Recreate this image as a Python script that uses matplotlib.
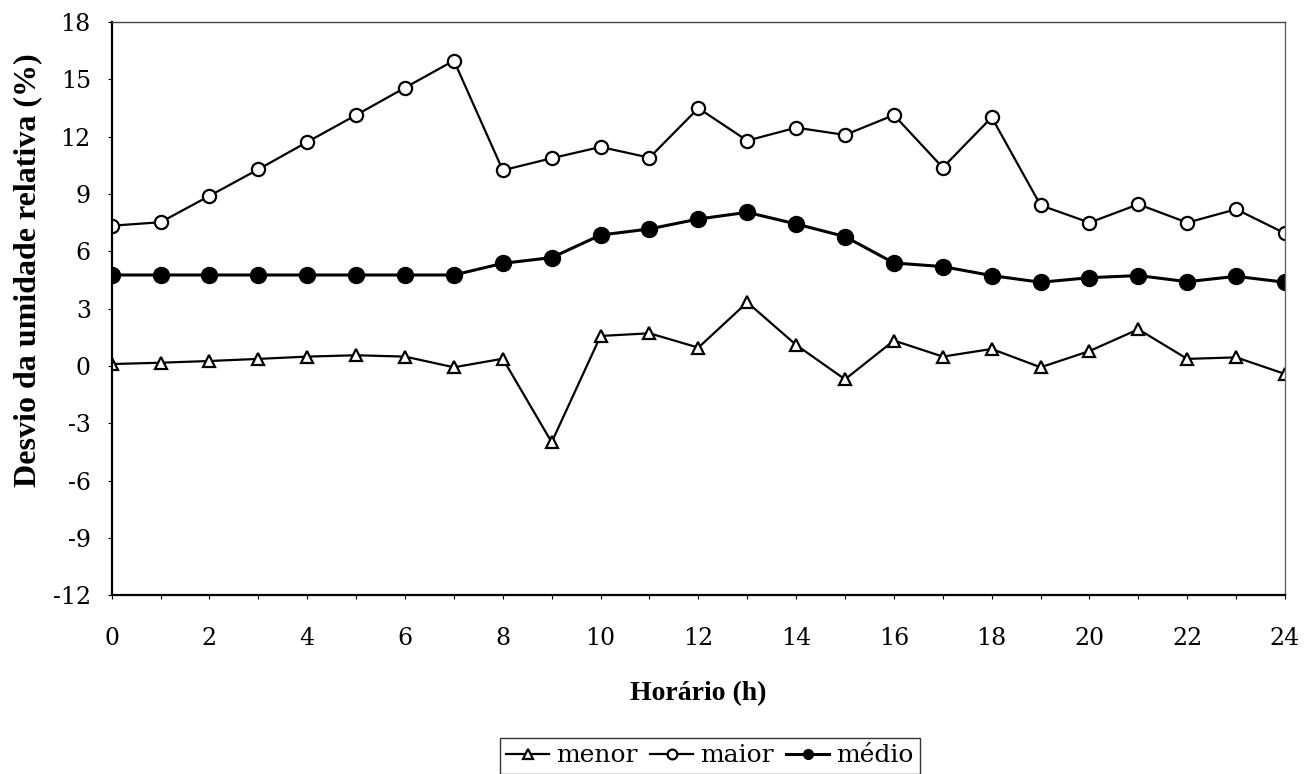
import matplotlib
matplotlib.use("Agg")
import matplotlib.pyplot as plt
from matplotlib.ticker import MultipleLocator

plt.rcParams["axes.unicode_minus"] = False

hours = list(range(25))
menor = [0.1, 0.17, 0.26, 0.37, 0.49, 0.56, 0.49, -0.07, 0.38, -3.99, 1.57, 1.71, 0.96,
         3.33, 1.1, -0.7, 1.33, 0.49, 0.89, -0.07, 0.78, 1.92, 0.37, 0.45, -0.42]
maior = [7.34, 7.52, 8.9, 10.29, 11.72, 13.13, 14.56, 15.98, 10.24, 10.87, 11.46, 10.9, 13.49,
         11.79, 12.47, 12.09, 13.13, 10.38, 13.01, 8.41, 7.5, 8.46, 7.5, 8.2, 6.94]
medio = [4.76, 4.76, 4.76, 4.76, 4.76, 4.76, 4.76, 4.76, 5.37, 5.67, 6.85, 7.17, 7.69,
         8.04, 7.43, 6.77, 5.39, 5.2, 4.73, 4.38, 4.62, 4.73, 4.41, 4.69, 4.38]

xticks = list(range(0, 25, 2))
yticks = list(range(-12, 19, 3))

fig = plt.figure(figsize=(13.09, 7.74), dpi=100)
ax = fig.add_axes([0.0853, 0.2309, 0.8964, 0.7407])

ax.plot(hours, menor, color="black", lw=1.6, marker="^", ms=8, mfc="white",
        mec="black", mew=1.6, label="menor", zorder=3)
ax.plot(hours, maior, color="black", lw=1.6, marker="o", ms=9.5, mfc="white",
        mec="black", mew=1.6, label="maior", zorder=3)
ax.plot(hours, medio, color="black", lw=2.2, marker="o", ms=11.5, mfc="black",
        mec="black", label="médio", zorder=4)

ax.set_xlim(0, 24)
ax.set_ylim(-12, 18)
ax.set_xticks(xticks)
ax.xaxis.set_minor_locator(MultipleLocator(1))
ax.set_yticks(yticks)

serif = ["DejaVu Serif"]
for lab in ax.get_xticklabels() + ax.get_yticklabels():
    lab.set_fontfamily(serif)
    lab.set_fontsize(17)

ax.tick_params(axis="both", which="both", direction="out", length=3, width=0.8, color="black")
ax.tick_params(axis="x", which="major", pad=20)
ax.tick_params(axis="y", which="major", pad=12)

for side in ["left", "bottom"]:
    ax.spines[side].set_color("black")
    ax.spines[side].set_linewidth(1.6)
ax.spines["top"].set_color("#444444")
ax.spines["top"].set_linewidth(1.0)
ax.spines["right"].set_color("#666666")
ax.spines["right"].set_linewidth(1.0)
for sp in ax.spines.values():
    sp.set_zorder(5)
    sp.set_clip_on(False)

ax.set_xlabel("Horário (h)", fontfamily="Liberation Serif", fontweight="bold",
              fontsize=20, labelpad=22)
fig.text(28 / 1309, 1 - 270 / 774, "Desvio da umidade relativa (%)",
         fontfamily="Liberation Serif", fontweight="bold", fontsize=23,
         rotation=90, ha="center", va="center")

leg = fig.legend(loc="center", bbox_to_anchor=(710 / 1309, 1 - 756 / 774), ncol=3,
                 frameon=True, fancybox=False, edgecolor="black", handlelength=1.7,
                 handletextpad=0.3, columnspacing=0.5, borderpad=0.25,
                 prop={"family": "DejaVu Serif", "size": 18})
leg.get_frame().set_linewidth(1.0)
for h in leg.legend_handles:
    h.set_markersize(7)

fig.savefig("out.png", dpi=100, facecolor="white")
